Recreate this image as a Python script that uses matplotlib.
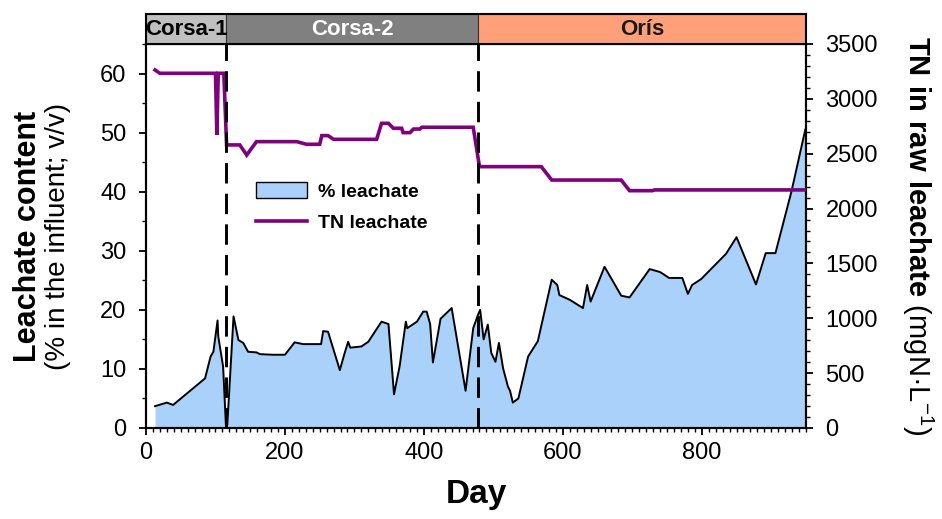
import matplotlib
matplotlib.use('Agg')
import matplotlib.pyplot as plt
from matplotlib.patches import Patch, Rectangle
from matplotlib.lines import Line2D
from matplotlib.ticker import MultipleLocator

plt.rcParams['font.family'] = ['Liberation Sans', 'DejaVu Sans']
plt.rcParams['mathtext.fontset'] = 'custom'
plt.rcParams['mathtext.rm'] = 'Liberation Sans'
plt.rcParams['mathtext.bf'] = 'Liberation Sans:bold'

# ---------------- data ----------------
days = [13, 30, 39, 85, 93, 97, 103, 104, 111, 115, 117, 126, 133, 140, 147,
        159, 164, 183, 200, 214, 226, 252, 255, 262, 279, 286, 291, 294, 310,
        320, 339, 349, 357, 365, 374, 376, 390, 399, 404, 409, 413, 424, 440,
        460, 471, 478, 481, 486, 492, 497, 503, 508, 514, 521, 524, 528, 536,
        550, 564, 584, 592, 595, 610, 629, 635, 640, 660, 684, 696, 725, 740,
        753, 772, 780, 786, 799, 835, 850, 878, 892, 906, 929, 949]
leachate_pct = [3.7, 4.3, 3.9, 8.4, 12.1, 12.9, 18.2, 15.5, 10.4, 0.5, 0.5,
                18.9, 14.9, 14.4, 12.9, 12.8, 12.5, 12.4, 12.4, 14.5, 14.2,
                14.2, 16.4, 16.3, 9.8, 12.7, 14.6, 13.6, 13.8, 14.6, 18.0,
                17.6, 5.7, 10.4, 18.0, 16.9, 18.0, 19.7, 19.7, 17.6, 11.1,
                18.5, 20.3, 6.3, 16.9, 19.2, 20.0, 15.0, 17.5, 12.7, 11.2,
                14.4, 10.1, 7.0, 6.3, 4.3, 5.0, 12.1, 14.7, 25.1, 24.2, 22.5,
                21.7, 20.3, 24.2, 21.4, 27.3, 22.4, 22.1, 26.9, 26.4, 25.4,
                25.4, 22.7, 24.2, 25.2, 29.5, 32.3, 24.3, 29.6, 29.6, 40.0,
                50.5]

tn_days = [13, 20, 100, 102, 104, 112, 116, 135, 145, 159, 217, 231, 250,
           253, 262, 270, 332, 339, 349, 356, 368, 370, 380, 385, 394, 397,
           471, 480, 569, 584, 684, 696, 729, 732, 948]
tn_values = [3263, 3233, 3233, 2671, 3233, 3233, 2580, 2580, 2488, 2610,
             2610, 2586, 2586, 2665, 2665, 2631, 2631, 2777, 2777, 2732,
             2732, 2692, 2692, 2725, 2725, 2741, 2741, 2382, 2382, 2260,
             2260, 2163, 2163, 2170, 2170]

phase_names = ['Corsa-1', 'Corsa-2', 'Orís']
phase_bounds = [0, 115, 478, 950]
phase_colors = ['#C0C0C0', '#808080', '#FFA07A']
phase_text_colors = ['#000000', '#FFFFFF', '#1a1a1a']

x_ticks = [0, 200, 400, 600, 800]
left_ticks = [0, 10, 20, 30, 40, 50, 60]
right_ticks = [0, 500, 1000, 1500, 2000, 2500, 3000, 3500]

fill_color = '#A9D1FA'
tn_color = '#800080'

# ---------------- figure ----------------
W, H = 942, 519
fig = plt.figure(figsize=(W / 100, H / 100), dpi=100)
ax_l, ax_r, ax_b, ax_t = 146, 806, 428, 44
ax = fig.add_axes([ax_l / W, 1 - ax_b / H, (ax_r - ax_l) / W, (ax_b - ax_t) / H])

ax.fill_between(days, 0, leachate_pct, color=fill_color, lw=0, zorder=1)
ax.plot(days, leachate_pct, color='black', lw=1.4, zorder=2)
ax.set_xlim(0, 950)
ax.set_ylim(0, 65)

ax.set_xticks(x_ticks)
ax.xaxis.set_minor_locator(MultipleLocator(10))
ax.set_yticks(left_ticks)
ax.yaxis.set_minor_locator(MultipleLocator(5))
for sp in ax.spines.values():
    sp.set_linewidth(1.5)
ax.tick_params(axis='both', which='major', direction='out', length=5,
               width=1.3, labelsize=17)
ax.tick_params(axis='both', which='minor', direction='out', length=3,
               width=1.0)
ax.tick_params(axis='y', which='major', pad=9)
ax.tick_params(axis='x', which='major', pad=5)

ax2 = ax.twinx()
ax2.plot(tn_days, tn_values, color=tn_color, lw=2.6, zorder=3,
         solid_joinstyle='miter')
ax2.set_ylim(0, 3500)
ax2.set_yticks(right_ticks)
ax2.yaxis.set_minor_locator(MultipleLocator(100))
for sp in ax2.spines.values():
    sp.set_linewidth(1.5)
ax2.tick_params(axis='y', which='major', direction='out', length=5,
                width=1.3, labelsize=17, pad=9)
ax2.tick_params(axis='y', which='minor', direction='out', length=3, width=1.0)

for b in phase_bounds[1:-1]:
    ax2.axvline(b, color='black', lw=2.1, linestyle=(0, (7, 3.5)), zorder=4)

# phase band above the plot
band = fig.add_axes([ax_l / W, 1 - ax_t / H, (ax_r - ax_l) / W, 30 / H])
band.set_xlim(0, 950)
band.set_ylim(0, 1)
band.set_xticks([])
band.set_yticks([])
for sp in band.spines.values():
    sp.set_linewidth(1.5)
for i, name in enumerate(phase_names):
    x0, x1 = phase_bounds[i], phase_bounds[i + 1]
    band.add_patch(Rectangle((x0, 0), x1 - x0, 1, facecolor=phase_colors[i],
                             edgecolor='#333333', lw=0.8))
    band.text((x0 + x1) / 2, 0.47, name, ha='center', va='center',
              fontsize=16, fontweight='bold', color=phase_text_colors[i])

# axis labels
fig.text(28 / W, 1 - 236 / H, 'Leachate content', rotation=90, fontsize=22,
         fontweight='bold', ha='center', va='center')
fig.text(58 / W, 1 - 236 / H, '(% in the influent; v/v)', rotation=90,
         fontsize=20, ha='center', va='center')
fig.text(918 / W, 1 - 236 / H,
         r'$\mathbf{TN\ in\ raw\ leachate}$ (mgN·L$^{\mathregular{-1}}$)',
         rotation=-90, fontsize=21, ha='center', va='center')
fig.text(476 / W, 1 - 495 / H, 'Day', fontsize=24, fontweight='bold',
         ha='center', va='center')

# legend
handles = [Patch(facecolor=fill_color, edgecolor='black', lw=1.0),
           Line2D([], [], color=tn_color, lw=2.6)]
fig.legend(handles, ['% leachate', 'TN leachate'], loc='upper left',
           bbox_to_anchor=(256 / W, 1 - 182 / H), frameon=False,
           prop={'weight': 'bold', 'size': 14}, handlelength=2.6,
           handletextpad=0.6, labelspacing=0.65, borderpad=0,
           borderaxespad=0, handleheight=0.9)

fig.savefig('out.png', dpi=100)
